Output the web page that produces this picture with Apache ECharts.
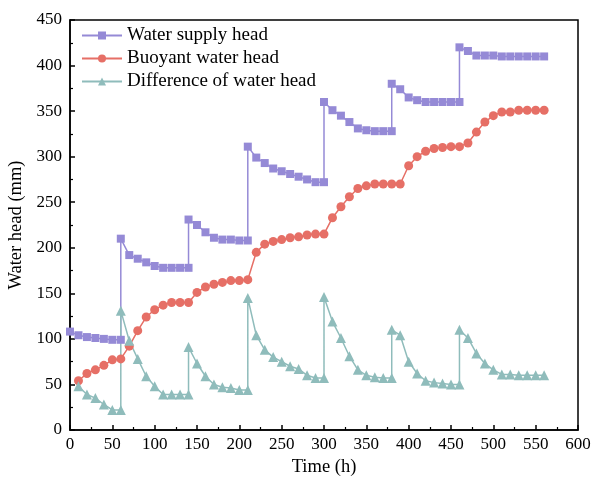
<!DOCTYPE html>
<html>
<head>
<meta charset="utf-8">
<script src="https://cdn.jsdelivr.net/npm/echarts@6/dist/echarts.min.js"></script>
<style>html,body{margin:0;padding:0;background:#fff}#c{width:594px;height:480px}</style>
</head>
<body>
<div id="c"></div>
<script>
const seriesNames = ['Water supply head', 'Buoyant water head', 'Difference of water head'];
const xTicks = [0, 50, 100, 150, 200, 250, 300, 350, 400, 450, 500, 550, 600];
const yTicks = [0, 50, 100, 150, 200, 250, 300, 350, 400, 450];

const supplyTime = [0,10,20,30,40,50,60,60,70,80,90,100,110,120,130,140,140,150,160,170,180,190,200,210,210,220,230,240,250,260,270,280,290,300,300,310,320,330,340,350,360,370,380,380,390,400,410,420,430,440,450,460,460,470,480,490,500,510,520,530,540,550,560];
const supplyHead = [108,104,102,101,100,99,99,210,192,188,184,180,178,178,178,178,231,225,217,211,209,209,208,208,311,299,293,287,284,281,278,275,272,272,360,351,345,338,331,329,328,328,328,380,374,365,362,360,360,360,360,360,420,416,411,411,411,410,410,410,410,410,410];

const buoyantTime = [10,20,30,40,50,60,70,80,90,100,110,120,130,140,150,160,170,180,190,200,210,220,230,240,250,260,270,280,290,300,310,320,330,340,350,360,370,380,390,400,410,420,430,440,450,460,470,480,490,500,510,520,530,540,550,560];
const buoyantHead = [54,62,66,71,77,78,92,109,124,132,137,140,140,140,151,157,160,162,164,164,165,195,204,207,209,211,212,214,215,215,233,245,256,265,268,270,270,270,270,290,300,306,309,310,311,311,315,327,338,345,349,349,351,351,351,351];

const diffTime = [10,20,30,40,50,60,60,70,80,90,100,110,120,130,140,140,150,160,170,180,190,200,210,210,220,230,240,250,260,270,280,290,300,300,310,320,330,340,350,360,370,380,380,390,400,410,420,430,440,450,460,460,470,480,490,500,510,520,530,540,550,560];
const diffHead = [48,39,35,28,22,22,131,98,78,59,48,39,39,39,39,91,73,59,50,47,46,44,44,145,104,88,80,75,70,67,60,57,57,146,119,101,81,66,60,58,57,57,110,104,75,62,54,52,51,50,50,110,101,84,73,66,61,61,60,60,60,60];

const colors = ['#958ad6', '#e66f66', '#8fbcbb'];
const pair = (t, v) => t.map((x, i) => [x, v[i]]);
const font = 'Liberation Serif, Times New Roman, serif';

const chart = echarts.init(document.getElementById('c'), null, {renderer: 'canvas'});
const axisCommon = {
  axisLine: {show: true, onZero: false, lineStyle: {color: '#000', width: 1.5}},
  axisTick: {show: true, inside: true, length: 5, lineStyle: {color: '#000', width: 1.5}},
  minorTick: {show: true, splitNumber: 2, length: 3, lineStyle: {color: '#000', width: 1.2}},
  splitLine: {show: false},
  axisLabel: {color: '#000', fontFamily: font, fontSize: 17},
  nameTextStyle: {color: '#000', fontFamily: font, fontSize: 18.5},
  nameLocation: 'middle'
};
chart.setOption({
  animation: false,
  backgroundColor: '#fff',
  grid: {left: 70, right: 16, top: 20, bottom: 50, show: true, borderColor: '#000', borderWidth: 1.5,
         containLabel: false, outerBoundsMode: 'none'},
  legend: {
    orient: 'vertical', left: 76, top: 21, itemWidth: 40, itemHeight: 10, itemGap: 4,
    textStyle: {color: '#000', fontFamily: font, fontSize: 19},
    data: seriesNames
  },
  xAxis: Object.assign({}, axisCommon, {
    type: 'value', min: xTicks[0], max: xTicks[xTicks.length - 1], interval: 50,
    name: 'Time (h)', nameGap: 27,
    axisLabel: Object.assign({}, axisCommon.axisLabel, {margin: 6})
  }),
  yAxis: Object.assign({}, axisCommon, {
    type: 'value', min: yTicks[0], max: yTicks[yTicks.length - 1], interval: 50,
    name: 'Water head (mm)', nameGap: 44,
    axisLabel: Object.assign({}, axisCommon.axisLabel, {margin: 8})
  }),
  series: [
    {name: seriesNames[0], type: 'line', data: pair(supplyTime, supplyHead), symbol: 'rect', symbolSize: 8,
     itemStyle: {color: colors[0]}, lineStyle: {color: colors[0], width: 1.5}},
    {name: seriesNames[1], type: 'line', data: pair(buoyantTime, buoyantHead), symbol: 'circle', symbolSize: 9,
     itemStyle: {color: colors[1]}, lineStyle: {color: colors[1], width: 1.5}},
    {name: seriesNames[2], type: 'line', data: pair(diffTime, diffHead), symbol: 'triangle', symbolSize: 10,
     itemStyle: {color: colors[2]}, lineStyle: {color: colors[2], width: 1.5}}
  ]
});
</script>
</body>
</html>
